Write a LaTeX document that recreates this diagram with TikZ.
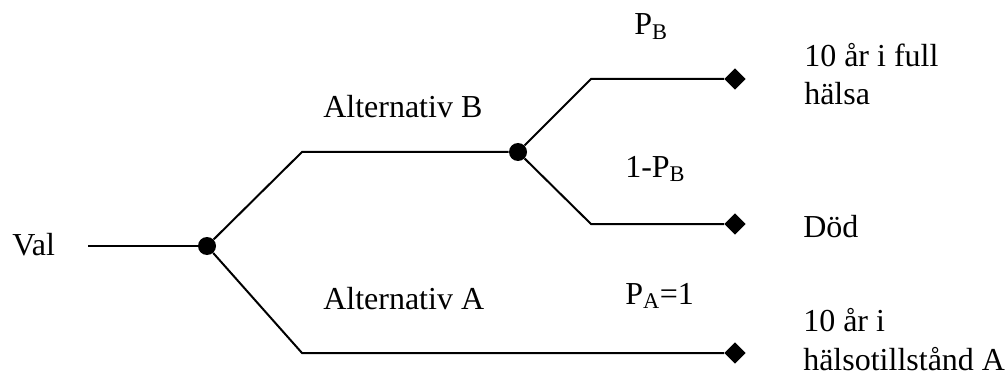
\documentclass[tikz,border=0pt]{standalone}
\usepackage{fontspec}
\setmainfont{Liberation Serif}
\usetikzlibrary{shapes.geometric}
\tikzset{
  chance/.style={circle,fill=black,draw=none,minimum size=13.5pt,inner sep=0pt},
  term/.style={diamond,fill=black,draw=none,minimum size=16pt,inner sep=0pt},
  lbl/.style={anchor=base west,inner sep=0pt,font=\fontsize{24}{29}\selectfont,align=left},
  branch/.style={line width=1.5pt}
}
\begin{document}
\begin{tikzpicture}[x=0.75pt,y=-0.75pt]
\useasboundingbox (0,0) rectangle (1006,374);
% nodes
\coordinate (start) at (88,246);
\node[chance] (n1) at (207,246) {};
\node[chance] (n2) at (518,152) {};
\coordinate (c1) at (302,152);
\coordinate (c2) at (302,353);
\coordinate (c3) at (591,79);
\coordinate (c4) at (591,224);
\node[term] (t1) at (735,79) {};
\node[term] (t2) at (735,224) {};
\node[term] (t3) at (735,353) {};
% connectors
\draw[branch] (start) -- (n1);
\draw[branch] (n1) -- (c1) -- (n2);
\draw[branch] (n1) -- (c2) -- (t3);
\draw[branch] (n2) -- (c3) -- (t1);
\draw[branch] (n2) -- (c4) -- (t2);
% labels
\node[lbl] (val) at (12,255) {Val};
\node[lbl] (altB) at (323,118) {Alternativ B};
\node[lbl] (altA) at (323,309) {Alternativ A};
\node[lbl] (pb) at (634,35) {P\textsubscript{B}};
\node[lbl] (qb) at (625,177) {1-P\textsubscript{B}};
\node[lbl] (pa) at (625,304) {P\textsubscript{A}=1};
\node[lbl] (o1) at (804,105) {10 år i full\\hälsa};
\node[lbl] (o2) at (803,237) {Död};
\node[lbl] (o3) at (803,370) {10 år i\\hälsotillstånd A};
\end{tikzpicture}
\end{document}
